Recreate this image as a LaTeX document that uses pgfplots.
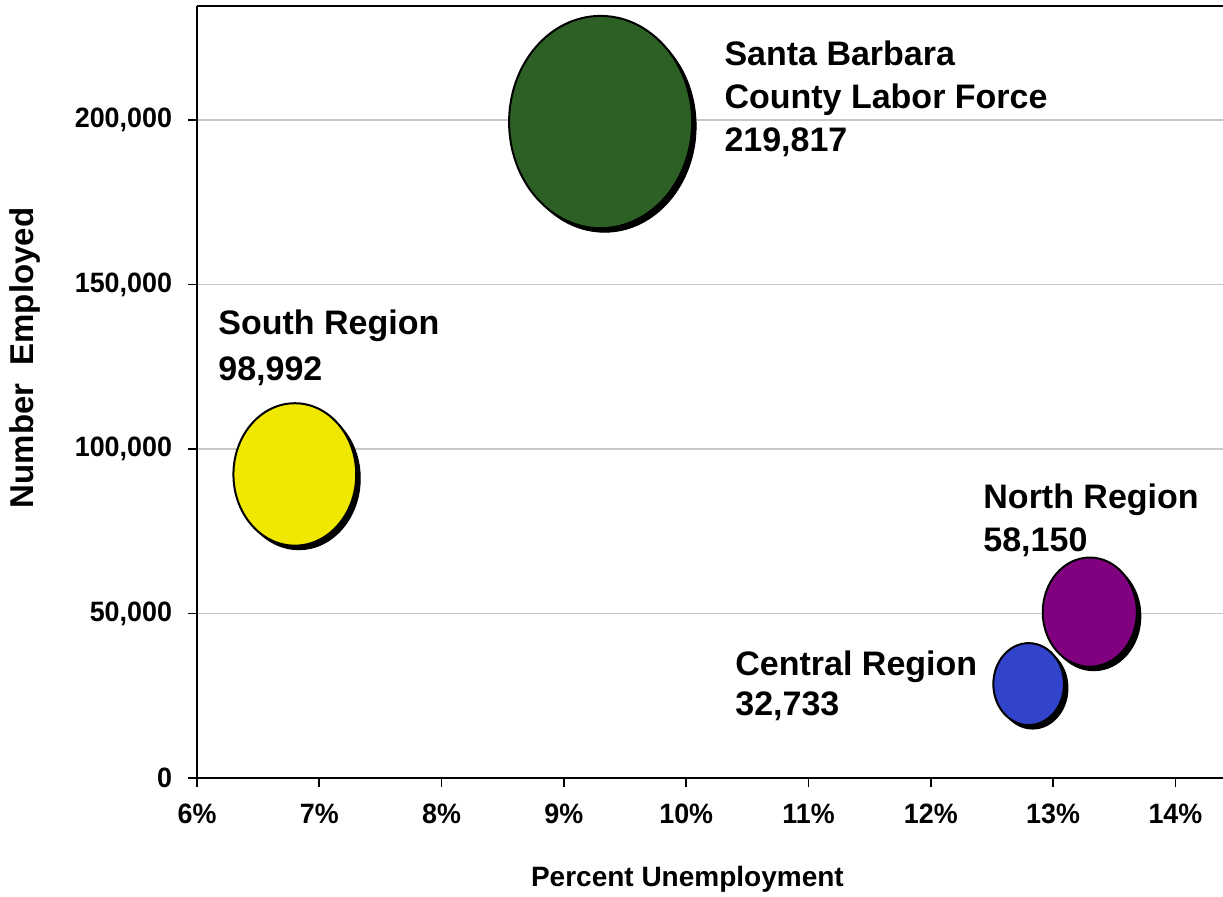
\documentclass[border=0pt]{standalone}
\usepackage{fontspec}
\setmainfont{Liberation Sans}
\newfontfamily\tickfont[FakeStretch=0.96]{Liberation Sans}
\usepackage{pgfplots}
\pgfplotsset{compat=1.18}
\usepackage{pgfplotstable}

\definecolor{sbgreen}{RGB}{44,96,36}
\definecolor{soyellow}{RGB}{240,232,0}
\definecolor{nopurple}{RGB}{128,0,128}
\definecolor{ceblue}{RGB}{51,68,204}

% unemployment rate (%), number employed, labor force
\pgfplotstableread{
x     y       lf
9.3   199374  219817
}\county
\pgfplotstableread{
x     y       lf
6.8   92261   98992
}\south
\pgfplotstableread{
x     y       lf
13.3  50416   58150
}\north
\pgfplotstableread{
x     y       lf
12.8  28543   32733
}\central

% bubble radius grows with the square root of the labor force;
% point meta is mapped to lf/1000 by the meta range below
\newcommand{\bubblek}{0.09758}

\pgfplotsset{
  bubble base/.style={
    scatter, only marks, mark=*,
    point meta=\thisrow{lf},
    point meta min=0, point meta max=1000000,
    scatter/@pre marker code/.code={%
      \edef\rad{\fpeval{\bubblek*sqrt(1000*\pgfplotspointmetatransformed)}}%
      \edef\next{\noexpand\scope[mark size=\rad pt]}\next},
    scatter/@post marker code/.code={\endscope},
  },
  bubble shadow/.style={
    bubble base,
    mark options={xshift=2pt, yshift=-2pt, yscale=1.16, draw=black, fill=black, line width=0.5pt},
  },
  bubble face/.style={
    bubble base,
    mark options={yscale=1.16, draw=black, fill=#1, line width=1pt},
  },
}

\newcommand{\bubble}[2]{%
  \addplot[bubble shadow] table[x=x, y=y] {#1};
  \addplot[bubble face=#2] table[x=x, y=y] {#1};
}

\newcommand{\lblfont}{\fontsize{17}{20}\selectfont\bfseries}

\begin{document}
\begin{tikzpicture}
\path[use as bounding box] (-98.5pt,-59.5pt) rectangle (513pt,389pt);
\begin{axis}[
  scale only axis, width=513pt, height=386pt,
  xmin=6, xmax=14.389, ymin=0, ymax=234650,
  axis lines=left,
  axis line style={-, line width=0.9pt, black},
  tick align=outside, major tick length=4.5pt,
  tick style={black, line width=0.8pt},
  xtick={6,7,...,14},
  xticklabels={6\%,7\%,8\%,9\%,10\%,11\%,12\%,13\%,14\%},
  ytick={0,50000,100000,150000,200000},
  scaled y ticks=false,
  yticklabel={\pgfmathprintnumber[fixed, 1000 sep={,}, assume math mode=true]{\tick}},
  ticklabel style={font=\tickfont\fontsize{14}{16}\selectfont\bfseries, inner sep=0pt},
  yticklabel style={anchor=east, xshift=-7.8pt},
  xticklabel style={anchor=north, yshift=-8.5pt},
  ymajorgrids,
  grid style={draw=black!22, line width=0.7pt},
  clip=false,
]
\bubble{\county}{sbgreen}
\bubble{\south}{soyellow}
\bubble{\north}{nopurple}
\bubble{\central}{ceblue}

\draw[line width=0.9pt, black] (rel axis cs:0,1) -- (rel axis cs:1,1);

% data labels
\node[anchor=base west, inner sep=0pt, font=\lblfont] at (axis cs:10.31,216700) {Santa Barbara};
\node[anchor=base west, inner sep=0pt, font=\lblfont] at (axis cs:10.31,203600) {County Labor Force};
\node[anchor=base west, inner sep=0pt, font=\lblfont] at (axis cs:10.31,190300) {219,817};

\node[anchor=base west, inner sep=0pt, font=\lblfont] at (axis cs:6.172,134700) {South Region};
\node[anchor=base west, inner sep=0pt, font=\lblfont] at (axis cs:6.172,120800) {98,992};

\node[anchor=base west, inner sep=0pt, font=\lblfont] at (axis cs:12.427,82000) {North Region};
\node[anchor=base west, inner sep=0pt, font=\lblfont] at (axis cs:12.427,68800) {58,150};

\node[anchor=base west, inner sep=0pt, font=\lblfont] at (axis cs:10.399,31300) {Central Region};
\node[anchor=base west, inner sep=0pt, font=\lblfont] at (axis cs:10.399,19100) {32,733};

% axis titles
\node[anchor=base, inner sep=0pt, font=\fontsize{14}{17}\selectfont\bfseries]
  at (rel axis cs:0.478,-0.1412) {Percent Unemployment};
\node[anchor=base, rotate=90, inner sep=0pt, font=\fontsize{16.5}{19}\selectfont\bfseries]
  at (rel axis cs:-0.1598,0.544) {Number\hspace{0.55em}Employed};
\end{axis}
\end{tikzpicture}
\end{document}
